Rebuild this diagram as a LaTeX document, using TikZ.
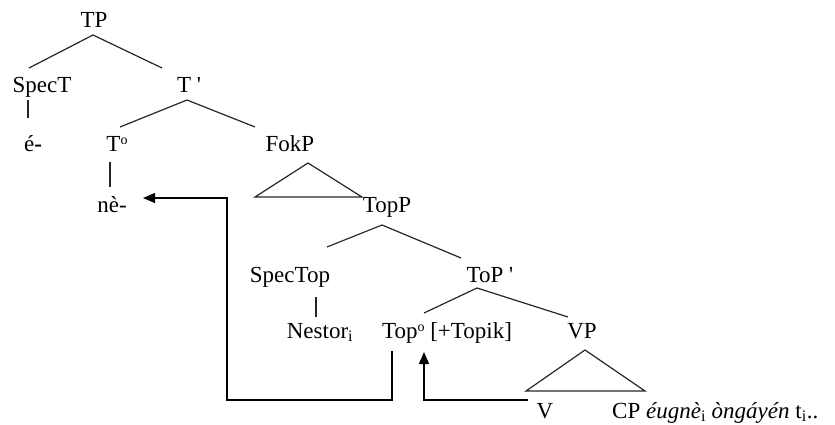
\documentclass[tikz,border=0pt]{standalone}
\usepackage{fontspec}
\setmainfont{Liberation Serif}
\usetikzlibrary{arrows.meta}
\newcommand{\degsup}{\raisebox{7pt}{\fontsize{14}{14}\selectfont o}}
\begin{document}
\begin{tikzpicture}[x=1pt,y=-1pt,
  lab/.style={anchor=base,inner sep=0pt,font=\fontsize{23}{26}\selectfont,text height=16pt,text depth=5pt},
  labw/.style={lab,anchor=base west},
  br/.style={line width=1.2pt,draw=black!85},
  mv/.style={line width=1.2pt,draw=black,-{Triangle[length=12pt,width=10pt]}}]
\useasboundingbox (0,0) rectangle (835,425);
% nodes
\node[lab] (TP) at (94,28) {TP};
\node[lab] (SpecT) at (42,93) {SpecT};
\node[lab] (Tbar) at (189,93) {T \textquotesingle};
\node[lab] (e) at (33,152) {é\textbf{-}};
\node[lab] (T0) at (117,152) {T\degsup};
\node[lab] (FokP) at (290,152) {FokP};
\node[lab] (ne) at (112,212) {nè-};
\node[lab] (TopP) at (387,212) {TopP};
\node[lab] (SpecTop) at (290,282) {SpecTop};
\node[lab] (ToPbar) at (490,282) {ToP \textquotesingle};
\node[lab] (Nestor) at (320,338) {Nestor\textsubscript{i}};
\node[lab] (Top0) at (447,338) {Top\degsup\ [+Topik]};
\node[lab] (VP) at (582,338) {VP};
\node[lab] (V) at (545,418) {V};
\node[labw] (CP) at (612,418) {CP \textit{éugnè}\textsubscript{i} \textit{òngáyén} t\textsubscript{i}..};
\coordinate (turn) at (227,400);
% branches
\draw[br] ([shift={(-13,-25)}]SpecT.base) -- ([shift={(-1,7)}]TP.base) -- ([shift={(-27,-25)}]Tbar.base);
\draw[br] ([shift={(-14,7)}]SpecT.base) -- ([shift={(-5,-34)}]e.base);
\draw[br] ([shift={(3,-25)}]T0.base) -- ([shift={(-2,7)}]Tbar.base) -- ([shift={(-35,-25)}]FokP.base);
\draw[br] ([shift={(-7,10)}]T0.base) -- ([shift={(-2,-25)}]ne.base);
\draw[br] ([shift={(18,11)}]FokP.base) -- ([shift={(-35,45)}]FokP.base) -- ([shift={(72,45)}]FokP.base) -- cycle;
\draw[br] ([shift={(37,-35)}]SpecTop.base) -- ([shift={(-5,13)}]TopP.base) -- ([shift={(-29,-24)}]ToPbar.base);
\draw[br] ([shift={(26,15)}]SpecTop.base) -- ([shift={(-4,-21)}]Nestor.base);
\draw[br] ([shift={(-23,-25)}]Top0.base) -- ([shift={(-13,6)}]ToPbar.base) -- ([shift={(-14,-21)}]VP.base);
\draw[br] ([shift={(3,12)}]VP.base) -- ([shift={(-56,53)}]VP.base) -- ([shift={(63,53)}]VP.base) -- cycle;
% movement arrows
\draw[mv] ([shift={(-55,13)}]Top0.base) |- (turn) |- ([shift={(31,-14)}]ne.base);
\draw[mv] ([shift={(-17,-18)}]V.base) -| ([shift={(-23,14)}]Top0.base);
\end{tikzpicture}
\end{document}
